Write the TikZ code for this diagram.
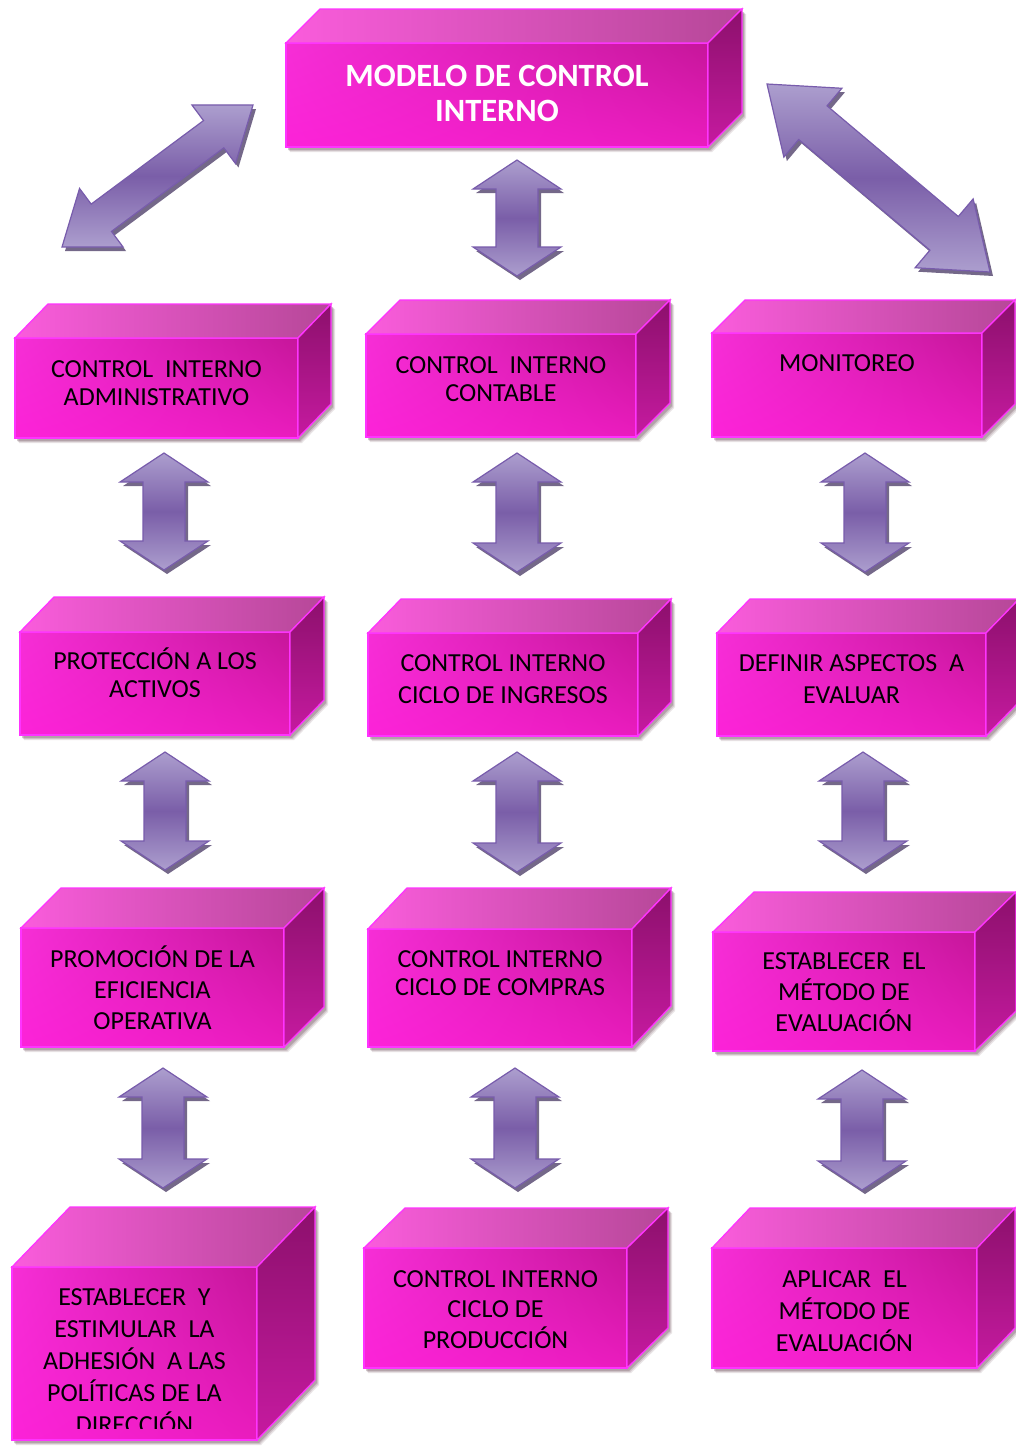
\documentclass[tikz,border=0pt]{standalone}
\usepackage{fontspec}
\setmainfont{Carlito}
\usetikzlibrary{calc,shadings}

% palette
\definecolor{edgemag}{RGB}{255,51,255}
\definecolor{frUL}{RGB}{246,46,214}
\definecolor{frUR}{RGB}{198,22,154}
\definecolor{frLL}{RGB}{252,34,216}
\definecolor{frLR}{RGB}{234,28,190}
\definecolor{topL}{RGB}{250,92,220}
\definecolor{topR}{RGB}{182,72,152}
\definecolor{sideT}{RGB}{140,16,108}
\definecolor{sideB}{RGB}{198,26,160}
\definecolor{boxshade}{RGB}{110,80,90}
\definecolor{arrLight}{RGB}{172,158,206}
\definecolor{arrDark}{RGB}{122,94,168}
\definecolor{arrEdge}{RGB}{120,92,172}
\definecolor{arrShadow}{RGB}{58,40,88}

\tikzset{
  face/.style={draw=edgemag, line width=1.3pt, line join=miter},
  frontface/.style={face, rectangle, inner sep=0pt, outer sep=0pt, anchor=north west,
    upper left=frUL, upper right=frUR, lower left=frLL, lower right=frLR},
  topface/.style={face, left color=topL, right color=topR},
  sideface/.style={face, top color=sideT, bottom color=sideB},
  txt/.style={inner sep=0pt, anchor=base, font=\fontsize{26}{30}\selectfont, text=black},
  ttl/.style={inner sep=0pt, anchor=base, font=\bfseries\fontsize{32.5}{38}\selectfont, text=white},
  arrbody/.style={draw=arrEdge, line width=1.2pt, line join=miter,
    top color=arrLight, bottom color=arrLight, middle color=arrDark},
  arrshadow/.style={fill=arrShadow, opacity=0.7},
}

% 3D block: name, front x1, y1, x2, y2, depth dx, dy
\newcommand\mcube[7]{%
  \foreach \s/\o in {5/0.15,4/0.2,3/0.3}{
    \fill[boxshade, opacity=\o] (#2+\s-1,#3+\s) -- (#2+\s-1,#5+\s) -- (#4+\s-1,#5+\s)
      -- (#4+#6+\s-1,#5-#7+\s) -- (#4+#6+\s-1,#3-#7+\s) -- cycle;
  }
  \node[frontface, minimum width={(#4-#2)*1pt}, minimum height={(#5-#3)*1pt}] (#1) at (#2,#3) {};
  \path[topface] (#1.north west) -- ++(#6,-#7) -- ++({#4-#2},0) -- (#1.north east) -- cycle;
  \path[sideface] (#1.north east) -- ++(#6,-#7) -- ++(0,{#5-#3}) -- (#1.south east) -- cycle;
}

% centred text lines: box name, centre x, first baseline, line step, lines
\newcommand\boxlines[5]{%
  \foreach \t [count=\i from 0] in {#5}
    \node[txt] (#1-l\i) at (#2,{#3+\i*#4}) {\t};
}

% double-headed block arrow: name, tip A, tip B, head length, head half width, shaft half width
\newcommand\dblarrow[6]{%
  \coordinate (#1-a) at #2;
  \coordinate (#1-b) at #3;
  \coordinate (#1-ha) at ($(#1-a)!#4pt!(#1-b)$);
  \coordinate (#1-hb) at ($(#1-b)!#4pt!(#1-a)$);
  \coordinate (#1-p1) at ($(#1-ha)!#5pt!90:(#1-b)$);
  \coordinate (#1-p2) at ($(#1-ha)!#6pt!90:(#1-b)$);
  \coordinate (#1-p3) at ($(#1-hb)!#6pt!-90:(#1-a)$);
  \coordinate (#1-p4) at ($(#1-hb)!#5pt!-90:(#1-a)$);
  \coordinate (#1-p5) at ($(#1-hb)!#5pt!90:(#1-a)$);
  \coordinate (#1-p6) at ($(#1-hb)!#6pt!90:(#1-a)$);
  \coordinate (#1-p7) at ($(#1-ha)!#6pt!-90:(#1-b)$);
  \coordinate (#1-p8) at ($(#1-ha)!#5pt!-90:(#1-b)$);
  \fill[arrshadow, transform canvas={xshift=3pt,yshift=-4pt}]
    (#1-a) -- (#1-p1) -- (#1-p2) -- (#1-p3) -- (#1-p4) -- (#1-b)
    -- (#1-p5) -- (#1-p6) -- (#1-p7) -- (#1-p8) -- cycle;
  \path[arrbody]
    (#1-a) -- (#1-p1) -- (#1-p2) -- (#1-p3) -- (#1-p4) -- (#1-b)
    -- (#1-p5) -- (#1-p6) -- (#1-p7) -- (#1-p8) -- cycle;
}
\newcommand\udarrow[3]{\dblarrow{#1}{#2}{#3}{29}{44}{21}}

\begin{document}
\begin{tikzpicture}[x=1pt,y=-1pt]
  \useasboundingbox[fill=white] (0,0) rectangle (1016,1446);

  % connecting arrows
  \dblarrow{aL}{(62,247)}{(253,105)}{49}{36.5}{17}
  \dblarrow{aR}{(767,84)}{(990,272)}{60}{45}{22}
  \udarrow{aT}{(517,160)}{(517,276)}
  \udarrow{aA1}{(164,453)}{(164,570)}
  \udarrow{aB1}{(517,453)}{(517,572)}
  \udarrow{aC1}{(865,453)}{(865,572)}
  \udarrow{aA2}{(165,752)}{(165,870)}
  \udarrow{aB2}{(517,752)}{(517,872)}
  \udarrow{aC2}{(863,752)}{(863,870)}
  \udarrow{aA3}{(163,1068)}{(163,1188)}
  \udarrow{aB3}{(515,1068)}{(515,1188)}
  \udarrow{aC3}{(862,1070)}{(862,1190)}

  % blocks
  \mcube{T}{286}{43}{708}{147}{34}{34}
  \mcube{A1}{15}{338}{298}{438}{33}{34}
  \mcube{B1}{366}{334}{636}{437}{34}{34}
  \mcube{C1}{712}{333}{982}{437}{33}{33}
  \mcube{A2}{20}{632}{290}{735}{34}{35}
  \mcube{B2}{368}{633}{638}{736}{33}{34}
  \mcube{C2}{717}{633}{986}{736}{33}{34}
  \mcube{A3}{21}{928}{284}{1047}{40}{40}
  \mcube{B3}{368}{929}{632}{1047}{39}{41}
  \mcube{C3}{713}{932}{975}{1051}{41}{40}
  \mcube{A4}{12}{1267}{257}{1440}{58}{60}
  \mcube{B4}{364}{1248}{627}{1368}{41}{40}
  \mcube{C4}{712}{1248}{977}{1368}{38}{40}

  % labels
  \node[ttl] (T-l0) at (497,86) {MODELO DE CONTROL};
  \node[ttl] (T-l1) at (497,121) {INTERNO};
  \boxlines{A1}{156.5}{377}{28}{CONTROL\ \ INTERNO,ADMINISTRATIVO}
  \boxlines{B1}{501}{373}{28}{CONTROL\ \ INTERNO,CONTABLE}
  \boxlines{C1}{847}{371}{28}{MONITOREO}
  \boxlines{A2}{155}{669}{28}{PROTECCIÓN A LOS,ACTIVOS}
  \boxlines{B2}{503}{671}{32}{CONTROL INTERNO,CICLO DE INGRESOS}
  \boxlines{C2}{851.5}{671}{32}{DEFINIR ASPECTOS\ \ A,EVALUAR}
  \boxlines{A3}{152.5}{967}{31}{PROMOCIÓN DE LA,EFICIENCIA,OPERATIVA}
  \boxlines{B3}{500}{967}{28}{CONTROL INTERNO,CICLO DE COMPRAS}
  \boxlines{C3}{844}{969}{31}{ESTABLECER\ \ EL,MÉTODO DE,EVALUACIÓN}
  \begin{scope}
    \clip (12,1267) rectangle (257,1428);
    \boxlines{A4}{134.5}{1305}{32}{ESTABLECER\ \ Y,ESTIMULAR\ \ LA,ADHESIÓN\ \ A LAS,POLÍTICAS DE LA,DIRECCIÓN}
  \end{scope}
  \boxlines{B4}{495.5}{1287}{30.5}{CONTROL INTERNO,CICLO DE,PRODUCCIÓN}
  \boxlines{C4}{844.5}{1287}{32}{APLICAR\ \ EL,MÉTODO DE,EVALUACIÓN}
\end{tikzpicture}
\end{document}
